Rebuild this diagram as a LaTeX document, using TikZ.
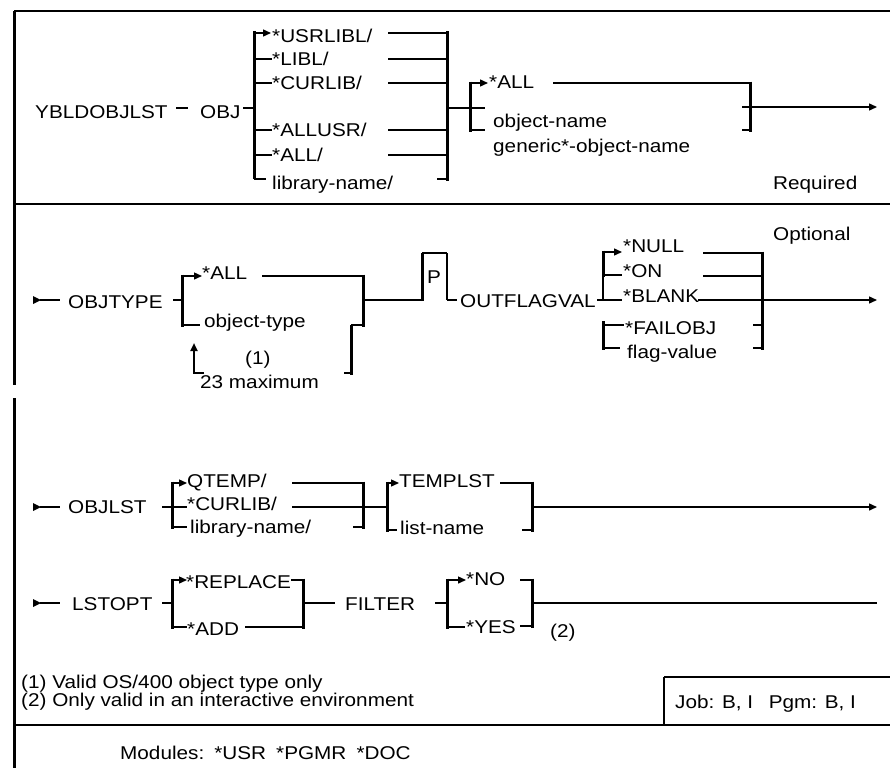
\documentclass[tikz,border=0pt]{standalone}
\usepackage{fontspec}
\usepackage{graphicx}
\setmainfont{Liberation Sans}
\usetikzlibrary{arrows.meta}
\newcommand{\wtxt}[1]{\scalebox{1.12}[1]{#1}}

\begin{document}
\begin{tikzpicture}[x=1pt, y=-1pt,
    txt/.style={anchor=base west, inner sep=0pt, font=\fontsize{18.5}{20}\selectfont},
    rail/.style={line width=1.4pt},
    bar/.style={line width=3pt},
    go/.style={rail, -{Triangle[length=8pt, width=7pt]}},
    frame/.style={line width=1.6pt}]
    \useasboundingbox (0,0) rectangle (890,768);

    % frame
    \draw[line width=3pt] (14,11) -- (14,385);
    \draw[line width=3pt] (14,398) -- (14,768);
    \draw[frame] (14,11) -- (890,11);
    \draw[frame] (14,204) -- (890,204);
    \draw[frame] (14,725) -- (890,725);
    \draw[frame] (890,677) -- (664,677);
    \draw[line width=2.5pt] (664,677) -- (664,725);

    % OBJ
    \node[txt] (cmd) at (35,118) {\wtxt{YBLDOBJLST}};
    \node[txt] (obj) at (200,118) {\wtxt{OBJ}};
    \node[txt] (usrlibl) at (272,43) {\wtxt{*USRLIBL/}};
    \node[txt] (libl) at (272,66) {\wtxt{*LIBL/}};
    \node[txt] (curlib) at (272,89) {\wtxt{*CURLIB/}};
    \node[txt] (allusr) at (272,136) {\wtxt{*ALLUSR/}};
    \node[txt] (all) at (272,161) {\wtxt{*ALL/}};
    \node[txt] (libname) at (272,189) {\wtxt{library-name/}};
    \node[txt] (allobj) at (489,88) {\wtxt{*ALL}};
    \node[txt] (objname) at (493,127) {\wtxt{object-name}};
    \node[txt] (genname) at (493,152) {\wtxt{generic*-object-name}};
    \node[txt] (req) at (773,189) {\wtxt{Required}};

    \draw[rail] (176,108) -- (188,108);
    \draw[rail] (243,108) -- (254,108);
    \draw[bar] (254,31.5) -- (254,179);
    \draw[go] (254,33) -- (271,33);
    \draw[rail] (254,179) -- (266,179);
    \foreach \y in {59,83,130,155}
        \draw[rail] (254,\y) -- (272,\y);
    \foreach \y in {33,59,83,130,155}
        \draw[rail] (388,\y) -- (447,\y);
    \draw[rail] (437,179) -- (447,179);
    \draw[bar] (447,31.5) -- (447,180.5);
    \draw[rail] (447,108) -- (485,108);
    \draw[bar] (470,81.5) -- (470,131.5);
    \draw[go] (470,83) -- (488,83);
    \draw[rail] (470,130) -- (485,130);
    \draw[rail] (553,83) -- (750,83);
    \draw[bar] (750,81.5) -- (750,131.5);
    \draw[rail] (742,130) -- (750,130);
    \draw[go] (742,107) -- (877,107);

    % OBJTYPE / OUTFLAGVAL
    \node[txt] (opt) at (773,240) {\wtxt{Optional}};
    \node[txt] (objtype) at (68,308) {\wtxt{OBJTYPE}};
    \node[txt] (typeall) at (202,279) {\wtxt{*ALL}};
    \node[txt] (typename) at (204,327) {\wtxt{object-type}};
    \node[txt] (note1) at (245,364) {\wtxt{(1)}};
    \node[txt] (maxnum) at (200,388) {\wtxt{23 maximum}};
    \node[txt] (pbox) at (427,283) {\wtxt{P}};
    \node[txt] (outflag) at (460,307) {\wtxt{OUTFLAGVAL}};
    \node[txt] (null) at (623,252) {\wtxt{*NULL}};
    \node[txt] (on) at (623,277) {\wtxt{*ON}};
    \node[txt] (blank) at (623,302) {\wtxt{*BLANK}};
    \node[txt] (failobj) at (625,334) {\wtxt{*FAILOBJ}};
    \node[txt] (flagval) at (627,358) {\wtxt{flag-value}};

    \fill (33,296) -- (41,300) -- (33,304) -- cycle;
    \draw[rail] (40,300) -- (60,300);
    \draw[rail] (173,300) -- (182,300);
    \draw[bar] (182,274.5) -- (182,326.5);
    \draw[go] (182,276) -- (202,276);
    \draw[rail] (182,325) -- (200,325);
    \draw[rail] (262,276) -- (363,276);
    \draw[bar] (363,274.5) -- (363,326.5);
    \draw[rail] (351,325) -- (363,325);
    \draw[bar] (351,325) -- (351,374.5);
    \draw[rail] (344,373) -- (351,373);
    \draw[go, line width=2.5pt] (204,373) -- (194,373) -- (194,343);
    \draw[rail] (363,300) -- (422,300);
    \draw[bar] (422,301) -- (422,253);
    \draw[rail] (422,253) -- (447,253);
    \draw[line width=2.4pt] (447,253) -- (447,300);
    \draw[rail] (447,300) -- (457,300);
    \draw[rail] (597,300) -- (622,300);
    \draw[bar] (603,250.5) -- (603,277);
    \draw[rail] (603,277) -- (603,300);
    \draw[go] (603,252) -- (622,252);
    \draw[rail] (603,275) -- (622,275);
    \draw[bar] (603,321) -- (603,349.5);
    \draw[rail] (603,325) -- (624,325);
    \draw[rail] (603,348) -- (620,348);
    \draw[rail] (703,253) -- (762,253);
    \draw[rail] (703,276) -- (762,276);
    \draw[bar] (762,251.5) -- (762,349.5);
    \draw[rail] (753,325) -- (762,325);
    \draw[rail] (753,348) -- (762,348);
    \draw[go] (698,300) -- (877,300);

    % OBJLST
    \node[txt] (objlst) at (68,513) {\wtxt{OBJLST}};
    \node[txt] (qtemp) at (187,487) {\wtxt{QTEMP/}};
    \node[txt] (lstcur) at (187,510) {\wtxt{*CURLIB/}};
    \node[txt] (lstlib) at (190,533) {\wtxt{library-name/}};
    \node[txt] (templst) at (399,487) {\wtxt{TEMPLST}};
    \node[txt] (lstname) at (400,534) {\wtxt{list-name}};

    \fill (33,503) -- (41,507) -- (33,511) -- cycle;
    \draw[rail] (40,507) -- (60,507);
    \draw[rail] (162,507) -- (187,507);
    \draw[bar] (172,481.5) -- (172,528.5);
    \draw[go] (172,483) -- (187,483);
    \draw[rail] (172,527) -- (187,527);
    \draw[rail] (292,483) -- (363,483);
    \draw[rail] (292,507) -- (387,507);
    \draw[rail] (353,527) -- (363,527);
    \draw[bar] (363,481.5) -- (363,528.5);
    \draw[bar] (387,481.5) -- (387,531.5);
    \draw[go] (387,483) -- (399,483);
    \draw[rail] (387,530) -- (397,530);
    \draw[rail] (500,483) -- (532,483);
    \draw[bar] (532,481.5) -- (532,531.5);
    \draw[rail] (522,530) -- (532,530);
    \draw[go] (532,507) -- (877,507);

    % LSTOPT / FILTER
    \node[txt] (lstopt) at (72,610) {\wtxt{LSTOPT}};
    \node[txt] (replace) at (186,588) {\wtxt{*REPLACE}};
    \node[txt] (add) at (187,635) {\wtxt{*ADD}};
    \node[txt] (filter) at (345,610) {\wtxt{FILTER}};
    \node[txt] (no) at (466,585) {\wtxt{*NO}};
    \node[txt] (yes) at (466,633) {\wtxt{*YES}};
    \node[txt] (note2) at (550,637) {\wtxt{(2)}};

    \fill (33,599) -- (41,603) -- (33,607) -- cycle;
    \draw[rail] (40,603) -- (60,603);
    \draw[rail] (162,603) -- (172,603);
    \draw[bar] (172,578.5) -- (172,628.5);
    \draw[go] (172,580) -- (187,580);
    \draw[rail] (172,627) -- (187,627);
    \draw[rail] (291,580) -- (303,580);
    \draw[rail] (245,627) -- (303,627);
    \draw[bar] (303,578.5) -- (303,628.5);
    \draw[rail] (303,603) -- (335,603);
    \draw[rail] (435,603) -- (447,603);
    \draw[bar] (447,578.5) -- (447,628.5);
    \draw[go] (447,580) -- (466,580);
    \draw[rail] (447,627) -- (465,627);
    \draw[rail] (520,580) -- (532,580);
    \draw[rail] (520,626) -- (532,626);
    \draw[bar] (532,578.5) -- (532,627.5);
    \draw[rail] (532,603) -- (877,603);

    % notes
    \node[txt] (fn1) at (21,688) {\wtxt{(1) Valid OS/400 object type only}};
    \node[txt] (fn2) at (21,706) {\wtxt{(2) Only valid in an interactive environment}};
    \node[txt] (job) at (675,708) {\wtxt{Job: B, I\hspace{14pt}Pgm: B, I}};
    \node[txt] (mods) at (120,759) {\wtxt{Modules:\hspace{9pt}*USR\hspace{9pt}*PGMR\hspace{9pt}*DOC}};
\end{tikzpicture}
\end{document}
